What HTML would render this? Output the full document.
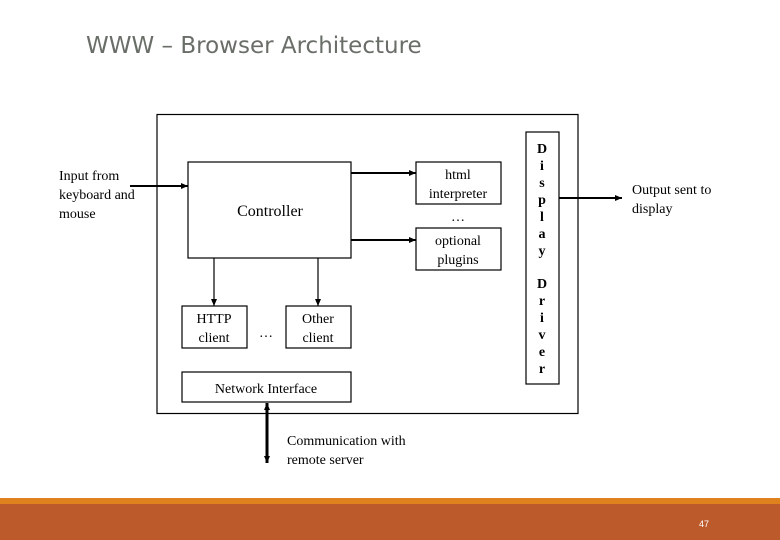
<!DOCTYPE html>
<html><head><meta charset="utf-8"><style>
html,body{margin:0;padding:0;background:#fff;}
svg{display:block;}
</style></head><body>
<svg width="780" height="540" viewBox="0 0 780 540" xmlns="http://www.w3.org/2000/svg">
<defs>
<marker id="a" markerWidth="8" markerHeight="8" refX="7" refY="4" orient="auto" markerUnits="userSpaceOnUse"><path d="M0,1 L7,4 L0,7 Z" fill="#000"/></marker>
<marker id="as" markerWidth="8" markerHeight="8" refX="1" refY="4" orient="auto" markerUnits="userSpaceOnUse"><path d="M8,1 L1,4 L8,7 Z" fill="#000"/></marker>
</defs>
<text x="86" y="53" font-family="'DejaVu Sans','Liberation Sans',sans-serif" font-size="23" fill="#6a6e68">WWW – Browser Architecture</text>
<g fill="none" stroke="#000" stroke-width="1.2">
<rect x="157" y="114.5" width="421" height="299"/>
<rect x="188" y="162" width="163" height="96"/>
<rect x="416" y="162" width="85" height="42"/>
<rect x="416" y="228" width="85" height="42"/>
<rect x="526" y="132" width="33" height="252"/>
<rect x="182" y="306" width="65" height="42"/>
<rect x="286" y="306" width="65" height="42"/>
<rect x="182" y="372" width="169" height="30"/>
</g>
<g stroke="#000">
<line x1="130" y1="186" x2="188" y2="186" stroke-width="2" marker-end="url(#a)"/>
<line x1="351" y1="173" x2="416" y2="173" stroke-width="2" marker-end="url(#a)"/>
<line x1="351" y1="240" x2="416" y2="240" stroke-width="2" marker-end="url(#a)"/>
<line x1="214" y1="258" x2="214" y2="306" stroke-width="1.2" marker-end="url(#a)"/>
<line x1="318" y1="258" x2="318" y2="306" stroke-width="1.2" marker-end="url(#a)"/>
<line x1="559" y1="198" x2="622" y2="198" stroke-width="2" marker-end="url(#a)"/>
<line x1="267" y1="403" x2="267" y2="463" stroke-width="3" marker-end="url(#a)" marker-start="url(#as)"/>
</g>
<g font-family="'Liberation Serif',serif" font-size="14" fill="#000">
<text x="59" y="180">Input from</text>
<text x="59" y="199">keyboard and</text>
<text x="59" y="218">mouse</text>
<text x="270" y="216" text-anchor="middle" font-size="16">Controller</text>
<text x="458" y="179" text-anchor="middle">html</text>
<text x="458" y="198" text-anchor="middle">interpreter</text>
<text x="458" y="221" text-anchor="middle">…</text>
<text x="458" y="245" text-anchor="middle">optional</text>
<text x="458" y="264" text-anchor="middle">plugins</text>
<text x="214" y="323" text-anchor="middle">HTTP</text>
<text x="214" y="342" text-anchor="middle">client</text>
<text x="318" y="323" text-anchor="middle">Other</text>
<text x="318" y="342" text-anchor="middle">client</text>
<text x="266" y="337" text-anchor="middle">…</text>
<text x="266" y="393" text-anchor="middle">Network Interface</text>
<text x="632" y="194">Output sent to</text>
<text x="632" y="213">display</text>
<text x="287" y="445">Communication with</text>
<text x="287" y="464">remote server</text>
<g font-weight="bold" text-anchor="middle">
<text x="542" y="153">D</text><text x="542" y="170">i</text><text x="542" y="187">s</text><text x="542" y="204">p</text><text x="542" y="221">l</text><text x="542" y="238">a</text><text x="542" y="255">y</text>
<text x="542" y="288">D</text><text x="542" y="305">r</text><text x="542" y="322">i</text><text x="542" y="339">v</text><text x="542" y="356">e</text><text x="542" y="373">r</text>
</g>
</g>
<rect x="0" y="498" width="780" height="6" fill="#df821e"/>
<rect x="0" y="504" width="780" height="36" fill="#bd5a2c"/>
<text x="704" y="527" font-family="'Liberation Sans',sans-serif" font-size="9" fill="#fff" text-anchor="middle">47</text>
</svg>
</body></html>
